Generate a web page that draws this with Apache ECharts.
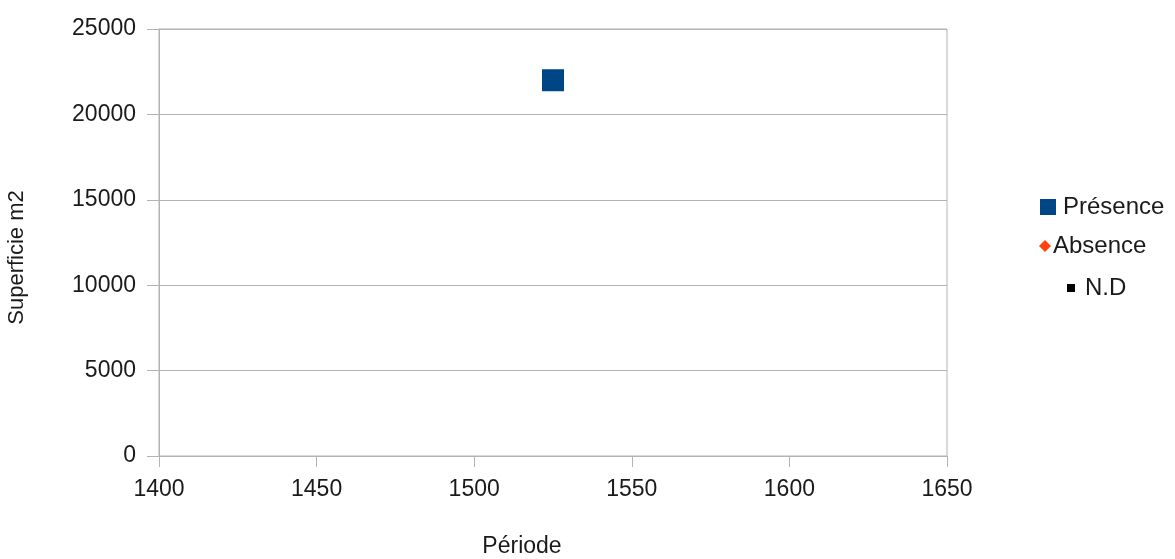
<!DOCTYPE html>
<html>
<head>
<meta charset="utf-8">
<script src="https://cdn.jsdelivr.net/npm/echarts@6/dist/echarts.min.js"></script>
<style>
  html, body { margin: 0; padding: 0; background: #fff; }
  #chart { width: 1175px; height: 559px; }
</style>
</head>
<body>
<div id="chart"></div>
<script>
// Surface (m2) per period, by status
const presence = [[1525, 22000]];
const absence = [];
const nd = [];

const seriesNames = ['Présence', 'Absence', 'N.D'];
const xTicks = { min: 1400, max: 1650, interval: 50 };
const yTicks = { min: 0, max: 25000, interval: 5000 };

const FONT = '"Liberation Sans", Arial, sans-serif';
const GRID_COLOR = '#b3b3b3';
const TEXT_COLOR = '#1a1a1a';

const plain = v => String(v);

const chart = echarts.init(document.getElementById('chart'), null, { renderer: 'canvas' });

chart.setOption({
  backgroundColor: '#fff',
  animation: false,
  textStyle: { fontFamily: FONT },
  grid: {
    left: 159, right: 228, top: 29, bottom: 103,
    containLabel: false,
    outerBoundsMode: 'none',
    show: true, borderColor: GRID_COLOR, borderWidth: 1
  },
  legend: [
    {
      data: [{ name: seriesNames[0], icon: 'rect', itemStyle: { color: '#004586', opacity: 1 } }],
      orient: 'vertical', left: 1035, top: 190,
      itemWidth: 16, itemHeight: 16, itemGap: 0,
      textStyle: { fontSize: 24, color: TEXT_COLOR, fontFamily: FONT, padding: [0, 0, 0, 2] }
    },
    {
      data: [{ name: seriesNames[1], icon: 'diamond', itemStyle: { color: '#ff420e', opacity: 1 } }],
      orient: 'vertical', left: 1034, top: 229,
      itemWidth: 12, itemHeight: 12, itemGap: 0,
      textStyle: { fontSize: 24, color: TEXT_COLOR, fontFamily: FONT, padding: [0, 0, 0, -3] }
    },
    {
      data: [{ name: seriesNames[2], icon: 'rect', itemStyle: { color: '#000000', opacity: 1 } }],
      orient: 'vertical', left: 1062, top: 271,
      itemWidth: 8, itemHeight: 8, itemGap: 0,
      textStyle: { fontSize: 24, color: TEXT_COLOR, fontFamily: FONT, padding: [0, 0, 0, 5] }
    }
  ],
  xAxis: {
    type: 'value',
    min: xTicks.min, max: xTicks.max, interval: xTicks.interval,
    name: 'Période',
    nameLocation: 'middle',
    nameGap: 79,
    nameTextStyle: { fontSize: 23, color: TEXT_COLOR, fontFamily: FONT, padding: [0, 62, 0, 0] },
    axisLine: { show: true, lineStyle: { color: GRID_COLOR, width: 1 } },
    axisTick: { show: true, length: 11, lineStyle: { color: GRID_COLOR } },
    axisLabel: { fontSize: 23, color: TEXT_COLOR, fontFamily: FONT, margin: 22, formatter: plain },
    splitLine: { show: false }
  },
  yAxis: {
    type: 'value',
    min: yTicks.min, max: yTicks.max, interval: yTicks.interval,
    name: 'Superficie m2',
    nameLocation: 'middle',
    nameGap: 131,
    nameRotate: 90,
    nameTextStyle: { fontSize: 22, color: TEXT_COLOR, fontFamily: FONT, padding: [0, 30, 0, 0] },
    axisLine: { show: true, lineStyle: { color: GRID_COLOR, width: 1 } },
    axisTick: { show: true, length: 12, lineStyle: { color: GRID_COLOR } },
    axisLabel: { fontSize: 23, color: TEXT_COLOR, fontFamily: FONT, margin: 23, formatter: plain },
    splitLine: { show: true, lineStyle: { color: GRID_COLOR, width: 1 } }
  },
  series: [
    {
      name: seriesNames[0], type: 'scatter', data: presence,
      symbol: 'rect', symbolSize: 22,
      itemStyle: { color: '#004586', opacity: 1 }
    },
    {
      name: seriesNames[1], type: 'scatter', data: absence,
      symbol: 'diamond', symbolSize: 14,
      itemStyle: { color: '#ff420e', opacity: 1 }
    },
    {
      name: seriesNames[2], type: 'scatter', data: nd,
      symbol: 'rect', symbolSize: 10,
      itemStyle: { color: '#000000', opacity: 1 }
    }
  ]
});
</script>
</body>
</html>
